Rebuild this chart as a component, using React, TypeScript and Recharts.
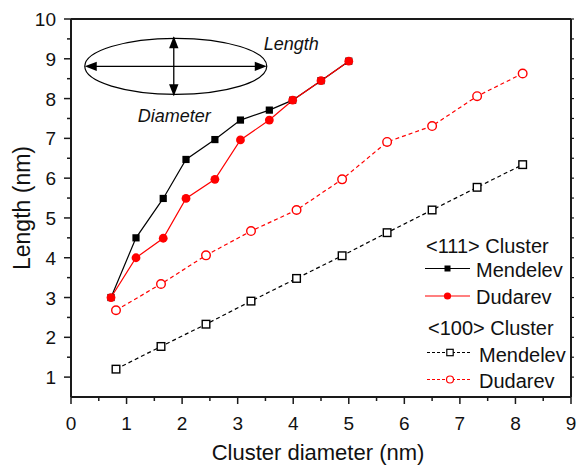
import { ComposedChart, Line, XAxis, YAxis, ReferenceDot } from "recharts";

const FONT = "'Liberation Sans', Arial, sans-serif";
const AXIS = "#1a1a1a";
const RED = "#ff0000";

// <111> clusters (solid)
const m111X = [0.72, 1.17, 1.66, 2.07, 2.59, 3.05, 3.57, 3.99, 4.5, 5.0];
const m111Y = [3.0, 4.5, 5.49, 6.47, 6.97, 7.46, 7.71, 7.96, 8.45, 8.94];
const d111X = [0.72, 1.17, 1.66, 2.07, 2.59, 3.05, 3.57, 3.99, 4.5, 5.0];
const d111Y = [3.0, 4.0, 4.49, 5.49, 5.97, 6.96, 7.46, 7.96, 8.45, 8.94];

// <100> clusters (dashed)
const c100X = [0.81, 1.62, 2.43, 3.24, 4.06, 4.88, 5.69, 6.5, 7.31, 8.13];
const m100Y = [1.2, 1.77, 2.33, 2.91, 3.48, 4.05, 4.63, 5.2, 5.77, 6.34];
const d100Y = [2.68, 3.34, 4.06, 4.67, 5.2, 5.97, 6.91, 7.31, 8.06, 8.63];

const xTicks = [0, 0.5, 1, 1.5, 2, 2.5, 3, 3.5, 4, 4.5, 5, 5.5, 6, 6.5, 7, 7.5, 8, 8.5, 9];
const yTicks = [1, 1.5, 2, 2.5, 3, 3.5, 4, 4.5, 5, 5.5, 6, 6.5, 7, 7.5, 8, 8.5, 9, 9.5, 10];

const toPts = (xs: number[], ys: number[]) => xs.map((x, i) => ({ x, y: ys[i] }));
const m111 = toPts(m111X, m111Y);
const d111 = toPts(d111X, d111Y);
const m100 = toPts(c100X, m100Y);
const d100 = toPts(c100X, d100Y);

const isMajor = (v: number) => Number.isInteger(v);

function BottomTick({ x, y, payload }: any) {
  const major = isMajor(payload.value);
  return (
    <g>
      <line x1={x} x2={x} y1={y} y2={y + (major ? 7 : 4)} stroke={AXIS} strokeWidth={1.5} />
      {major && (
        <text x={x} y={y + 33} textAnchor="middle" fontSize={19} fontFamily={FONT} fill="#111">
          {payload.value}
        </text>
      )}
    </g>
  );
}

function LeftTick({ x, y, payload }: any) {
  const major = isMajor(payload.value);
  return (
    <g>
      <line x1={x} x2={x - (major ? 7 : 4)} y1={y} y2={y} stroke={AXIS} strokeWidth={1.5} />
      {major && (
        <text x={x - 15} y={y + 7} textAnchor="end" fontSize={19} fontFamily={FONT} fill="#111">
          {payload.value}
        </text>
      )}
    </g>
  );
}

function TopTick({ x, y }: any) {
  return <line x1={x} x2={x} y1={y} y2={y - 3} stroke={AXIS} strokeWidth={1.2} />;
}

function RightTick({ x, y }: any) {
  return <line x1={x} x2={x + 3} y1={y} y2={y} stroke={AXIS} strokeWidth={1.2} />;
}

const filledSquare = (p: any) => (
  <rect key={`fs-${p.index}`} x={p.cx - 3.6} y={p.cy - 3.6} width={7.2} height={7.2} fill="#000" />
);
const filledCircle = (p: any) => <circle key={`fc-${p.index}`} cx={p.cx} cy={p.cy} r={4.4} fill={RED} />;
const openSquare = (p: any) => (
  <rect
    key={`os-${p.index}`}
    x={p.cx - 3.8}
    y={p.cy - 3.8}
    width={7.6}
    height={7.6}
    fill="#fff"
    stroke="#000"
    strokeWidth={1.4}
  />
);
const openCircle = (p: any) => (
  <circle key={`oc-${p.index}`} cx={p.cx} cy={p.cy} r={4.3} fill="#fff" stroke={RED} strokeWidth={1.4} />
);

// ellipse sketch in the top-left corner
function EllipseSketch({ cx, cy }: any) {
  const rx = 91;
  const ry = 28;
  const vx = cx - 2;
  return (
    <g>
      <ellipse cx={cx} cy={cy} rx={rx} ry={ry} fill="none" stroke="#000" strokeWidth={1.2} />
      <line x1={cx - rx + 6} x2={cx + rx - 6} y1={cy} y2={cy} stroke="#000" strokeWidth={1.3} />
      <polygon points={`${cx - rx},${cy} ${cx - rx + 12},${cy - 4.7} ${cx - rx + 12},${cy + 4.7}`} fill="#000" />
      <polygon points={`${cx + rx},${cy} ${cx + rx - 12},${cy - 4.7} ${cx + rx - 12},${cy + 4.7}`} fill="#000" />
      <line x1={vx} x2={vx} y1={cy - ry - 1} y2={cy + ry + 1} stroke="#000" strokeWidth={1.3} />
      <polygon points={`${vx},${cy - ry - 2} ${vx - 4.7},${cy - ry + 10} ${vx + 4.7},${cy - ry + 10}`} fill="#000" />
      <polygon points={`${vx},${cy + ry + 2} ${vx - 4.7},${cy + ry - 10} ${vx + 4.7},${cy + ry - 10}`} fill="#000" />
      <text x={cx + 88} y={cy - 16} fontSize={18} fontStyle="italic" fontFamily={FONT} fill="#111">
        Length
      </text>
      <text x={cx - 38} y={cy + 56} fontSize={18} fontStyle="italic" fontFamily={FONT} fill="#111">
        Diameter
      </text>
    </g>
  );
}

function LegendBlock() {
  const t = { fontSize: 20, fontFamily: FONT, fill: "#111" };
  return (
    <g>
      <text x={426} y={253} {...t}>{"<111> Cluster"}</text>
      <line x1={425} x2={470} y1={268.5} y2={268.5} stroke="#000" strokeWidth={1.2} />
      <rect x={444.5} y={265.5} width={6} height={6} fill="#000" />
      <text x={476} y={276.5} {...t}>Mendelev</text>
      <line x1={425} x2={470} y1={296} y2={296} stroke={RED} strokeWidth={1.2} />
      <circle cx={447.5} cy={296} r={3.6} fill={RED} />
      <text x={476} y={304} {...t}>Dudarev</text>

      <text x={428} y={335} {...t}>{"<100> Cluster"}</text>
      <line x1={427} x2={472} y1={352.5} y2={352.5} stroke="#000" strokeWidth={1.2} strokeDasharray="3 2" />
      <rect x={446.8} y={349.3} width={6.4} height={6.4} fill="#fff" stroke="#000" strokeWidth={1.2} />
      <text x={479} y={361.5} {...t}>Mendelev</text>
      <line x1={427} x2={472} y1={379.5} y2={379.5} stroke={RED} strokeWidth={1.2} strokeDasharray="3 2" />
      <circle cx={450} cy={379.5} r={3.5} fill="#fff" stroke={RED} strokeWidth={1.2} />
      <text x={479} y={388} {...t}>Dudarev</text>
    </g>
  );
}

export default function App() {
  return (
    <div style={{ position: "absolute", left: 0, top: 0, width: 577, height: 468, background: "#fff" }}>
      <ComposedChart width={577} height={468} margin={{ top: 9, right: 1, bottom: 0, left: 21 }}>
        <XAxis
          dataKey="x"
          type="number"
          domain={[0, 9]}
          ticks={xTicks}
          interval={0}
          allowDataOverflow
          height={71}
          tickSize={0}
          tickMargin={0}
          tickLine={false}
          tick={<BottomTick />}
          axisLine={{ stroke: AXIS, strokeWidth: 2 }}
        />
        <XAxis
          xAxisId="top"
          orientation="top"
          type="number"
          domain={[0, 9]}
          ticks={xTicks}
          interval={0}
          allowDataOverflow
          height={10}
          tickSize={0}
          tickMargin={0}
          tickLine={false}
          tick={<TopTick />}
          axisLine={{ stroke: AXIS, strokeWidth: 2 }}
        />
        <YAxis
          type="number"
          domain={[0.5, 10]}
          ticks={yTicks}
          interval={0}
          allowDataOverflow
          width={50}
          tickSize={0}
          tickMargin={0}
          tickLine={false}
          tick={<LeftTick />}
          axisLine={{ stroke: AXIS, strokeWidth: 2 }}
        />
        <YAxis
          yAxisId="right"
          orientation="right"
          type="number"
          domain={[0.5, 10]}
          ticks={yTicks}
          interval={0}
          allowDataOverflow
          width={5}
          tickSize={0}
          tickMargin={0}
          tickLine={false}
          tick={<RightTick />}
          axisLine={{ stroke: AXIS, strokeWidth: 2 }}
        />

        <Line
          data={m100}
          dataKey="y"
          type="linear"
          stroke="#000"
          strokeWidth={1.2}
          strokeDasharray="4 3"
          dot={openSquare}
          activeDot={false}
          isAnimationActive={false}
        />
        <Line
          data={d100}
          dataKey="y"
          type="linear"
          stroke={RED}
          strokeWidth={1.2}
          strokeDasharray="4 3"
          dot={openCircle}
          activeDot={false}
          isAnimationActive={false}
        />
        <Line
          data={m111}
          dataKey="y"
          type="linear"
          stroke="#000"
          strokeWidth={1.2}
          dot={filledSquare}
          activeDot={false}
          isAnimationActive={false}
        />
        <Line
          data={d111}
          dataKey="y"
          type="linear"
          stroke={RED}
          strokeWidth={1.2}
          dot={filledCircle}
          activeDot={false}
          isAnimationActive={false}
        />

        <ReferenceDot x={1.886} y={8.81} r={0} shape={<EllipseSketch />} />

        <text x={318} y={460} textAnchor="middle" fontSize={22} fontFamily={FONT} fill="#111">
          Cluster diameter (nm)
        </text>
        <text
          x={30}
          y={208}
          textAnchor="middle"
          fontSize={23}
          fontFamily={FONT}
          fill="#111"
          transform="rotate(-90, 30, 208)"
        >
          Length (nm)
        </text>
        <LegendBlock />
      </ComposedChart>
    </div>
  );
}
